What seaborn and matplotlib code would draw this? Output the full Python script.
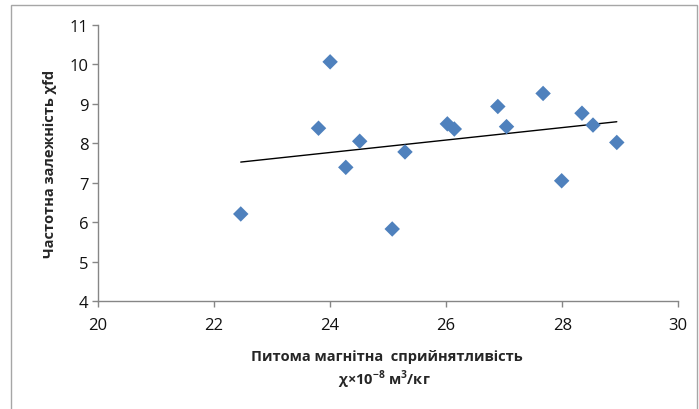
import numpy as np
import pandas as pd
import seaborn as sns
import matplotlib
matplotlib.use('Agg')
import matplotlib.pyplot as plt
from matplotlib.patches import Rectangle

# values
chi_mass = [22.46, 23.80, 24.00, 24.27, 24.51, 25.07, 25.29, 26.02,
            26.14, 26.89, 27.04, 27.67, 27.99, 28.34, 28.53, 28.94]
chi_fd = [6.21, 8.38, 10.06, 7.39, 8.05, 5.83, 7.78, 8.49,
          8.36, 8.93, 8.42, 9.26, 7.05, 8.76, 8.46, 8.02]

x_ticks = [20, 22, 24, 26, 28, 30]
y_ticks = [4, 5, 6, 7, 8, 9, 10, 11]

df = pd.DataFrame({'chi': chi_mass, 'fd': chi_fd})

sns.set_theme(style='white')
fonts = ['Open Sans', 'Noto Sans', 'DejaVu Sans']
plt.rcParams['font.family'] = fonts
plt.rcParams['mathtext.fontset'] = 'custom'
plt.rcParams['mathtext.bf'] = 'Open Sans:bold'
plt.rcParams['mathtext.rm'] = 'Open Sans'

fig = plt.figure(figsize=(6.99, 4.10), dpi=100)
ax = fig.add_axes([98 / 699, 1 - 302.3 / 410, (678.3 - 98) / 699, (302.3 - 25.7) / 410])

sns.regplot(data=df, x='chi', y='fd', scatter=False, ci=None, ax=ax,
            line_kws={'color': 'black', 'lw': 1.0})
sns.scatterplot(data=df, x='chi', y='fd', marker='D', s=62, color='#4F81BD',
                edgecolor='none', ax=ax, zorder=3)

ax.set_xlim(20, 30)
ax.set_ylim(4, 11)
ax.set_xticks(x_ticks)
ax.set_yticks(y_ticks)

grey = '#868686'
for side in ['top', 'right']:
    ax.spines[side].set_visible(False)
for side in ['left', 'bottom']:
    ax.spines[side].set_color(grey)
    ax.spines[side].set_linewidth(1.0)
ax.tick_params(axis='both', direction='out', length=4, width=1, color=grey,
               labelsize=12, labelcolor='#111111', pad=3,
               bottom=True, left=True)
ax.tick_params(axis='x', pad=7)

ax.set_xlabel('')
ax.set_ylabel('Частотна залежність χfd', fontsize=10.5, fontweight='bold',
              labelpad=9)

fig.text(387 / 699, 1 - 357 / 410, 'Питома магнітна  сприйнятливість',
         ha='center', va='center', fontsize=10.5, fontweight='bold')
fig.text(384 / 699, 1 - 380 / 410, r'χ×10$^{\mathbf{-8}}$ м$^{\mathbf{3}}$/кг',
         ha='center', va='center', fontsize=10.5, fontweight='bold')

# chart border like the office chart frame
fig.patches.append(Rectangle((11 / 699, -0.1), (697 - 11) / 699, 1.1 - 6 / 410,
                             transform=fig.transFigure, fill=False,
                             edgecolor='#A6A6A6', lw=1.0))

fig.savefig('out.png', dpi=100)
